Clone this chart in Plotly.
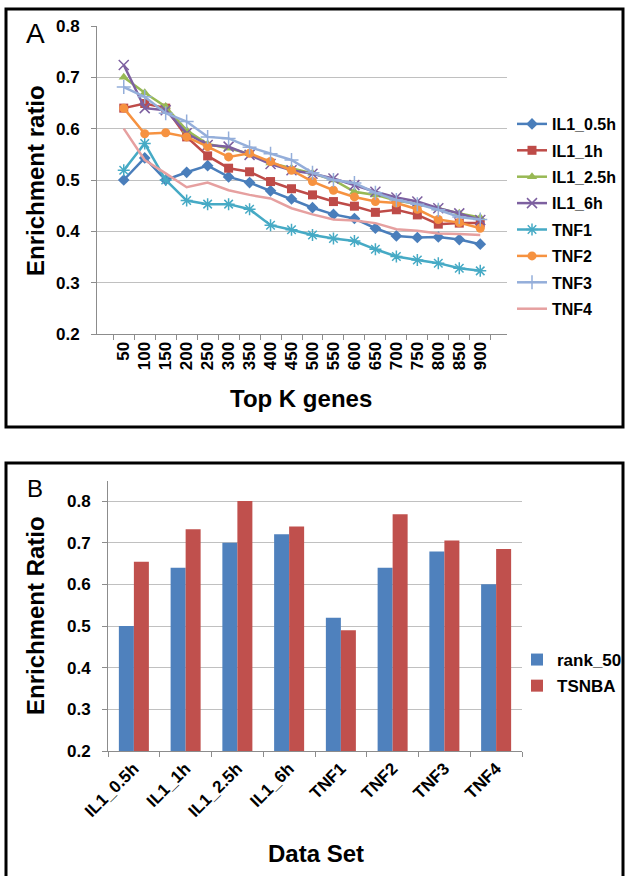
import plotly.graph_objects as go

W, H = 628, 876

# ---------------- Data ----------------
top_k = ["50", "100", "150", "200", "250", "300", "350", "400", "450", "500",
         "550", "600", "650", "700", "750", "800", "850", "900"]

il1_05h = [0.500, 0.543, 0.500, 0.515, 0.528, 0.506, 0.495, 0.479, 0.463, 0.446,
           0.433, 0.425, 0.406, 0.391, 0.388, 0.389, 0.384, 0.375]
il1_1h = [0.640, 0.649, 0.640, 0.584, 0.547, 0.523, 0.516, 0.497, 0.483, 0.471,
          0.458, 0.449, 0.437, 0.442, 0.432, 0.414, 0.416, 0.416]
il1_25h = [0.700, 0.670, 0.643, 0.597, 0.570, 0.562, 0.551, 0.533, 0.523, 0.513,
           0.500, 0.477, 0.471, 0.460, 0.453, 0.445, 0.435, 0.427]
il1_6h = [0.724, 0.640, 0.636, 0.591, 0.568, 0.565, 0.549, 0.531, 0.519, 0.512,
          0.503, 0.490, 0.477, 0.466, 0.458, 0.445, 0.435, 0.422]
tnf1 = [0.519, 0.571, 0.500, 0.460, 0.453, 0.453, 0.443, 0.412, 0.403, 0.393,
        0.386, 0.381, 0.365, 0.351, 0.344, 0.338, 0.328, 0.323]
tnf2 = [0.640, 0.590, 0.592, 0.584, 0.565, 0.545, 0.552, 0.536, 0.519, 0.497,
        0.480, 0.467, 0.458, 0.455, 0.443, 0.423, 0.417, 0.406]
tnf3 = [0.681, 0.662, 0.630, 0.614, 0.584, 0.581, 0.564, 0.551, 0.539, 0.514,
        0.500, 0.494, 0.475, 0.461, 0.453, 0.442, 0.428, 0.423]
tnf4 = [0.600, 0.539, 0.513, 0.486, 0.495, 0.480, 0.471, 0.464, 0.445, 0.433,
        0.423, 0.421, 0.416, 0.404, 0.401, 0.396, 0.395, 0.393]

series_names = ["IL1_0.5h", "IL1_1h", "IL1_2.5h", "IL1_6h", "TNF1", "TNF2", "TNF3", "TNF4"]
series_values = [il1_05h, il1_1h, il1_25h, il1_6h, tnf1, tnf2, tnf3, tnf4]

datasets = ["IL1_0.5h", "IL1_1h", "IL1_2.5h", "IL1_6h", "TNF1", "TNF2", "TNF3", "TNF4"]
rank_50 = [0.500, 0.640, 0.700, 0.720, 0.520, 0.640, 0.679, 0.600]
tsnba = [0.654, 0.732, 0.800, 0.739, 0.490, 0.768, 0.705, 0.685]

# ---------------- Styles ----------------
line_colors = ["#4A7EBB", "#BE4B48", "#98B954", "#7D60A0", "#46AAC5", "#F69240", "#94AEDA", "#E6A0A0"]
symbols = ["diamond", "square", "triangle-up", "x-thin-open", "asterisk-open", "circle",
           "cross-thin-open", None]
FONT = "Liberation Sans, Arial, sans-serif"

def px_x(p):
    return p / W

def px_y(p):
    return 1 - p / H

fig = go.Figure()

for name, vals, col, sym in zip(series_names, series_values, line_colors, symbols):
    kw = dict(x=top_k, y=vals, name=name, xaxis="x", yaxis="y", legend="legend",
              legendgroup=name, line=dict(color=col, width=2.5))
    if sym is None:
        kw["mode"] = "lines"
    else:
        kw["mode"] = "lines+markers"
        if "thin" in sym or "open" in sym:
            kw["marker"] = dict(symbol=sym, size=10, color=col, line=dict(color=col, width=1.5))
        else:
            kw["marker"] = dict(symbol=sym, size=9, color=col, line=dict(width=0))
    fig.add_trace(go.Scatter(**kw))

fig.add_trace(go.Bar(x=datasets, y=rank_50, name="rank_50", xaxis="x2", yaxis="y2",
                     legend="legend2", legendgroup="rank_50",
                     marker=dict(color="#4F81BD", line=dict(width=0))))
fig.add_trace(go.Bar(x=datasets, y=tsnba, name="TSNBA", xaxis="x2", yaxis="y2",
                     legend="legend2", legendgroup="TSNBA",
                     marker=dict(color="#C0504D", line=dict(width=0))))

tickfont = dict(family=FONT, size=17, color="black", weight="bold")
axis_common = dict(showline=True, linecolor="#8C8C8C", linewidth=1, ticks="outside",
                   tickcolor="#8C8C8C", ticklen=5, tickfont=tickfont, zeroline=False,
                   automargin=False)

fig.update_layout(
    template="none",
    width=W, height=H,
    margin=dict(l=0, r=0, t=0, b=0, pad=0, autoexpand=False),
    paper_bgcolor="white", plot_bgcolor="white",
    showlegend=True,
    barmode="group", bargap=0.42, bargroupgap=0,
    xaxis=dict(domain=[px_x(97), px_x(507)], anchor="y", type="category",
               tickmode="array", tickvals=top_k, ticktext=top_k,
               tickson="boundaries", tickangle=-90, showgrid=False, **axis_common),
    yaxis=dict(domain=[px_y(334), px_y(26)], anchor="x", range=[0.2, 0.8], dtick=0.1,
               tick0=0.2, tickformat=".1f", showgrid=True, gridcolor="#C0C0C0", gridwidth=1,
               ticklabelstandoff=8, **axis_common),
    xaxis2=dict(domain=[px_x(108), px_x(522)], anchor="y2", type="category",
                tickmode="array", tickvals=datasets, ticktext=datasets,
                tickson="boundaries", tickangle=-45, showgrid=False, **axis_common),
    yaxis2=dict(domain=[px_y(751), px_y(481)], anchor="x2", range=[0.2, 0.848], dtick=0.1,
                tick0=0.2, tickformat=".1f", showgrid=True, gridcolor="#C0C0C0", gridwidth=1,
                ticklabelstandoff=8, **axis_common),
    legend=dict(x=px_x(512), y=px_y(107), xanchor="left", yanchor="top",
                font=dict(family=FONT, size=16, color="black", weight="bold"),
                bgcolor="rgba(0,0,0,0)", traceorder="grouped", tracegroupgap=2.6,
                itemwidth=30, borderwidth=0),
    legend2=dict(x=px_x(517), y=px_y(642), xanchor="left", yanchor="top",
                 font=dict(family=FONT, size=17, color="black", weight="bold"),
                 bgcolor="rgba(0,0,0,0)", traceorder="grouped", tracegroupgap=1,
                 itemwidth=30, borderwidth=0),
)

# Panel borders
fig.add_shape(type="rect", xref="paper", yref="paper",
              x0=px_x(6), x1=px_x(623), y0=px_y(427), y1=px_y(9),
              line=dict(color="black", width=3), fillcolor="rgba(0,0,0,0)")
fig.add_shape(type="rect", xref="paper", yref="paper",
              x0=px_x(6), x1=px_x(623), y0=px_y(890), y1=px_y(463),
              line=dict(color="black", width=3), fillcolor="rgba(0,0,0,0)")

title_font = dict(family=FONT, size=24, color="black", weight="bold")
annos = [
    dict(text="A", x=px_x(35), y=px_y(33), font=dict(family=FONT, size=28, color="black")),
    dict(text="B", x=px_x(35), y=px_y(488), font=dict(family=FONT, size=24, color="black")),
    dict(text="Enrichment ratio", x=px_x(36), y=px_y(181), textangle=-90, font=title_font),
    dict(text="Top K genes", x=px_x(301), y=px_y(398), font=title_font),
    dict(text="Enrichment Ratio", x=px_x(35), y=px_y(616), textangle=-90, font=title_font),
    dict(text="Data Set", x=px_x(316), y=px_y(853), font=title_font),
]
for a in annos:
    fig.add_annotation(xref="paper", yref="paper", showarrow=False,
                       xanchor="center", yanchor="middle", **a)

fig.write_html("out.html", config={"displayModeBar": False},
               post_script="document.body.style.margin='0';document.body.style.overflow='hidden';")
